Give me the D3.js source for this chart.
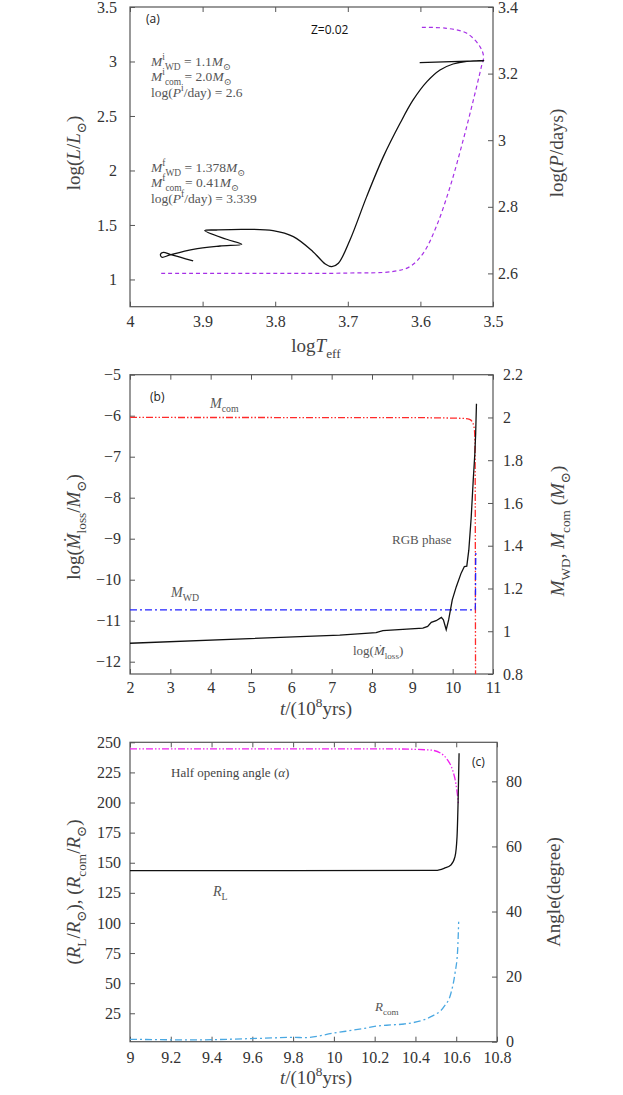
<!DOCTYPE html>
<html>
<head>
<meta charset="utf-8">
<script src="https://cdn.jsdelivr.net/npm/d3@7"></script>
<style>
    body { margin: 0; background: #fff; }
    svg { display: block; }
</style>
</head>
<body>
<script>
// ---- panel (a): HR track and orbital period ----
const hrTeff = [3.913, 3.931, 3.945, 3.954, 3.958, 3.956, 3.945, 3.913, 3.876, 3.846, 3.867, 3.897, 3.881,
    3.844, 3.803, 3.775, 3.748, 3.731, 3.722, 3.713, 3.697, 3.674, 3.651, 3.628, 3.610, 3.591, 3.573,
    3.555, 3.536, 3.513, 3.601];
const hrLogL = [1.170, 1.204, 1.231, 1.249, 1.231, 1.204, 1.225, 1.277, 1.307, 1.323, 1.369, 1.448, 1.454,
    1.460, 1.448, 1.393, 1.255, 1.142, 1.118, 1.149, 1.362, 1.760, 2.127, 2.433, 2.647, 2.815, 2.922,
    2.977, 3.002, 3.007, 2.989];
const perTeff = [3.957, 3.8, 3.7, 3.637, 3.614, 3.596, 3.578, 3.559, 3.541, 3.527, 3.516, 3.513, 3.518, 3.536, 3.564, 3.598];
const perLogP = [2.600, 2.600, 2.601, 2.606, 2.621, 2.661, 2.741, 2.861, 3.001, 3.121, 3.221, 3.251, 3.281, 3.321, 3.336, 3.339];
const aXTicks = [4, 3.9, 3.8, 3.7, 3.6, 3.5];
const aYTicks = [1, 1.5, 2, 2.5, 3, 3.5];
const aY2Ticks = [2.6, 2.8, 3, 3.2, 3.4];

// ---- panel (b): mass loss rate and masses ----
const tMloss = [2, 7.2, 8.1, 8.27, 9.26, 9.38, 9.47, 9.59, 9.72, 9.77, 9.84, 9.90, 9.99, 10.09, 10.21,
    10.29, 10.35, 10.40, 10.46, 10.51, 10.55, 10.57, 10.59];
const logMloss = [-11.55, -11.35, -11.29, -11.24, -11.18, -11.14, -11.04, -11.00, -10.92, -10.98, -11.22,
    -10.98, -10.49, -10.17, -9.84, -9.68, -9.67, -9.28, -8.47, -7.57, -6.92, -6.44, -5.71];
const tMcom = [2, 9, 10, 10.3, 10.42, 10.5, 10.54, 10.555, 10.56, 10.565, 10.575];
const mCom = [2.0, 1.999, 1.997, 1.995, 1.991, 1.975, 1.94, 1.85, 1.6, 1.0, 0.41];
const tMwd = [2, 10.56, 10.565, 10.57, 10.575];
const mWd = [1.1, 1.1, 1.15, 1.3, 1.378];
const bXTicks = [2, 3, 4, 5, 6, 7, 8, 9, 10, 11];
const bYTicks = [-12, -11, -10, -9, -8, -7, -6, -5];
const bY2Ticks = [0.8, 1, 1.2, 1.4, 1.6, 1.8, 2, 2.2];

// ---- panel (c): radii and opening angle ----
const tAlpha = [9, 10.3, 10.476, 10.525, 10.558, 10.582, 10.598, 10.607, 10.611];
const alphaDeg = [90, 89.95, 89.6, 88.6, 86.5, 83.5, 79.4, 75.3, 73];
const tRl = [9, 10.5, 10.541, 10.574, 10.594, 10.604, 10.609, 10.614];
const rL = [143.4, 143.6, 145.4, 148.1, 155, 171.6, 199.3, 240.9];
const tRcom = [9, 9.3, 9.64, 9.80, 9.86, 10.0, 10.15, 10.213, 10.279, 10.345, 10.476, 10.54, 10.574, 10.594, 10.607, 10.612];
const rCom = [3.4, 2.9, 4.2, 5.0, 4.8, 8.6, 12.5, 14.4, 15.3, 16.1, 22.2, 30.5, 41.6, 58.2, 77.5, 101];
const cXTicks = [9, 9.2, 9.4, 9.6, 9.8, 10, 10.2, 10.4, 10.6, 10.8];
const cYTicks = [25, 50, 75, 100, 125, 150, 175, 200, 225, 250];
const cY2Ticks = [0, 20, 40, 60, 80];

const W = 623, H = 1095;
const SERIF = '"Liberation Serif", "DejaVu Serif", serif';
const SANS = '"Open Sans", "DejaVu Sans", sans-serif';
const fmt = d3.format('~g');
const AX = 19; // axis title size

const svg = d3.select('body').append('svg')
    .attr('width', W)
    .attr('height', H);

// text with roman/italic pieces and sub/superscripts
// part: [text, flags]  flags: i = italic, b = subscript, p = superscript
function rich(sel, parts, size) {
    let shift = 0;
    parts.forEach(function (p) {
        const s = p[0], f = p[1] || '';
        const target = f.includes('b') ? 0.3 : (f.includes('p') ? -0.42 : 0);
        sel.append('tspan')
            .text(s)
            .attr('dy', ((target - shift) * size) + 'px')
            .style('font-size', (target ? size * 0.7 : size) + 'px')
            .style('font-style', f.includes('i') ? 'italic' : 'normal');
        shift = target;
    });
    return sel;
}

function label(x, y, parts, size, opts) {
    opts = opts || {};
    const t = svg.append('text')
        .attr('x', opts.rot ? 0 : x)
        .attr('y', opts.rot ? 0 : y)
        .attr('text-anchor', opts.anchor || 'start')
        .style('font-family', opts.font || SERIF)
        .style('font-size', size + 'px')
        .attr('fill', opts.color || '#444');
    if (opts.rot) t.attr('transform', 'translate(' + x + ',' + y + ') rotate(-90)');
    return rich(t, parts, size);
}

function styleAxis(g) {
    g.select('.domain').remove();
    g.selectAll('line').attr('stroke', '#555');
    g.selectAll('text')
        .style('font-family', SERIF)
        .style('font-size', '16px')
        .attr('fill', '#333');
}

function panel(cfg) {
    const x = d3.scaleLinear().domain(cfg.xd).range([cfg.x0, cfg.x1]);
    const yl = d3.scaleLinear().domain(cfg.yd).range([cfg.y1, cfg.y0]);
    const yr = d3.scaleLinear().domain(cfg.y2d).range([cfg.y1, cfg.y0]);

    const g = svg.append('g');
    g.append('g')
        .attr('transform', 'translate(0,' + cfg.y1 + ')')
        .call(d3.axisBottom(x).tickValues(cfg.xt).tickFormat(fmt).tickSize(-5).tickPadding(cfg.pb))
        .call(styleAxis);
    g.append('g')
        .attr('transform', 'translate(0,' + cfg.y0 + ')')
        .call(d3.axisTop(x).tickValues(cfg.xt).tickFormat('').tickSize(-5))
        .call(styleAxis);
    g.append('g')
        .attr('transform', 'translate(' + cfg.x0 + ',0)')
        .call(d3.axisLeft(yl).tickValues(cfg.yt).tickFormat(fmt).tickSize(-5).tickPadding(cfg.pl))
        .call(styleAxis);
    g.append('g')
        .attr('transform', 'translate(' + cfg.x1 + ',0)')
        .call(d3.axisRight(yr).tickValues(cfg.y2t).tickFormat(fmt).tickSize(-5).tickPadding(cfg.pr))
        .call(styleAxis);

    g.append('rect')
        .attr('x', cfg.x0).attr('y', cfg.y0)
        .attr('width', cfg.x1 - cfg.x0).attr('height', cfg.y1 - cfg.y0)
        .attr('fill', 'none')
        .attr('stroke', '#555')
        .attr('stroke-width', 1.2);

    const id = 'clip' + cfg.name;
    svg.append('clipPath').attr('id', id)
        .append('rect')
        .attr('x', cfg.x0).attr('y', cfg.y0)
        .attr('width', cfg.x1 - cfg.x0).attr('height', cfg.y1 - cfg.y0);
    const plot = svg.append('g').attr('clip-path', 'url(#' + id + ')');
    return {x: x, yl: yl, yr: yr, plot: plot};
}

function series(p, xs, ys, yScale, color, dash, width, curve) {
    const pts = xs.map((v, i) => [v, ys[i]]);
    p.plot.append('path')
        .datum(pts)
        .attr('d', d3.line()
            .x(d => p.x(d[0]))
            .y(d => yScale(d[1]))
            .curve(curve || d3.curveCatmullRom.alpha(0.5)))
        .attr('fill', 'none')
        .attr('stroke', color)
        .attr('stroke-width', width || 1.3)
        .attr('stroke-dasharray', dash || null);
}

// ---------- (a) ----------
const pa = panel({
    name: 'a', x0: 130, x1: 493, y0: 7, y1: 306.7,
    xd: [4, 3.5], yd: [0.75, 3.5], y2d: [2.5, 3.4],
    xt: aXTicks, yt: aYTicks, y2t: aY2Ticks, pb: 9, pl: 13, pr: 5
});
series(pa, perTeff, perLogP, pa.yr, '#a630e6', '4,3', 1.2);
series(pa, hrTeff, hrLogL, pa.yl, '#111', null, 1.3);

label(146, 23, [['(a)']], 12, {font: SANS, color: '#222'});
label(311, 34, [['Z=0.02']], 12, {font: SANS, color: '#111'});
const ann = 13.5, annC = '#555';
label(151, 66, [['M', 'i'], ['i', 'p'], ['WD', 'b'], [' = 1.1'], ['M', 'i'], ['⊙', 'b']], ann, {color: annC});
label(151, 81, [['M', 'i'], ['i', 'p'], ['com', 'b'], [' = 2.0'], ['M', 'i'], ['⊙', 'b']], ann, {color: annC});
label(151, 97, [['log('], ['P', 'i'], ['i', 'p'], ['/day) = 2.6']], ann, {color: annC});
label(151, 172, [['M', 'i'], ['f', 'p'], ['WD', 'b'], [' = 1.378'], ['M', 'i'], ['⊙', 'b']], ann, {color: annC});
label(151, 187, [['M', 'i'], ['f', 'p'], ['com', 'b'], [' = 0.41'], ['M', 'i'], ['⊙', 'b']], ann, {color: annC});
label(151, 203, [['log('], ['P', 'i'], ['f', 'p'], ['/day) = 3.339']], ann, {color: annC});

label(80, 153, [['log('], ['L', 'i'], ['/'], ['L', 'i'], ['⊙', 'b'], [')']], AX, {rot: true, anchor: 'middle'});
label(316, 352, [['log'], ['T', 'i'], ['eff', 'b']], AX, {anchor: 'middle'});
label(563, 153, [['log('], ['P', 'i'], ['/days)']], AX, {rot: true, anchor: 'middle'});

// ---------- (b) ----------
const pb = panel({
    name: 'b', x0: 130, x1: 493, y0: 374.7, y1: 674,
    xd: [2, 11], yd: [-12.3, -5], y2d: [0.8, 2.2],
    xt: bXTicks, yt: bYTicks, y2t: bY2Ticks, pb: 8, pl: 9, pr: 10
});
series(pb, tMcom, mCom, pb.yr, '#ff2a2a', '7,2,1.5,2,1.5,2', 1.3, d3.curveMonotoneX);
series(pb, tMwd, mWd, pb.yr, '#2222ff', '7,3,2,3', 1.3, d3.curveMonotoneX);
series(pb, tMloss, logMloss, pb.yl, '#111', null, 1.3, d3.curveLinear);

label(150, 401, [['(b)']], 12, {font: SANS, color: '#222'});
label(210, 408, [['M', 'i'], ['com', 'b']], 14, {color: annC});
label(171, 597, [['M', 'i'], ['WD', 'b']], 14, {color: annC});
label(392, 544, [['RGB phase']], 13, {color: annC});
label(353, 655, [['log('], ['Ṁ', 'i'], ['loss', 'b'], [')']], 13, {color: annC});

label(80, 527, [['log('], ['Ṁ', 'i'], ['loss', 'b'], ['/'], ['M', 'i'], ['⊙', 'b'], [')']], AX, {rot: true, anchor: 'middle'});
label(564, 531, [['M', 'i'], ['WD', 'b'], [', '], ['M', 'i'], ['com', 'b'], [' ('], ['M', 'i'], ['⊙', 'b'], [')']], AX, {rot: true, anchor: 'middle'});
label(316, 715, [['t', 'i'], ['/(10'], ['8', 'p'], ['yrs)']], AX, {anchor: 'middle'});

// ---------- (c) ----------
const pc = panel({
    name: 'c', x0: 130, x1: 497, y0: 742.3, y1: 1041.7,
    xd: [9, 10.8], yd: [1.4, 250], y2d: [0, 92],
    xt: cXTicks, yt: cYTicks, y2t: cY2Ticks, pb: 10, pl: 9, pr: 9
});
series(pc, tAlpha, alphaDeg, pc.yr, '#f020f0', '7,2,1.5,2,1.5,2', 1.3, d3.curveMonotoneX);
series(pc, tRcom, rCom, pc.yl, '#4aa8e2', '7,3,2,3', 1.3, d3.curveMonotoneX);
series(pc, tRl, rL, pc.yl, '#111', null, 1.3, d3.curveMonotoneX);

label(472, 766, [['(c)']], 12, {font: SANS, color: '#222'});
label(171, 777, [['Half opening angle ('], ['α', 'i'], [')']], 13, {color: '#444'});
label(213, 896, [['R', 'i'], ['L', 'b']], 14, {color: annC});
label(375, 1011, [['R', 'i'], ['com', 'b']], 13, {color: annC});

label(80, 892, [['('], ['R', 'i'], ['L', 'b'], ['/'], ['R', 'i'], ['⊙', 'b'], ['), ('], ['R', 'i'], ['com', 'b'], ['/'], ['R', 'i'], ['⊙', 'b'], [')']], AX, {rot: true, anchor: 'middle'});
label(560, 892, [['Angle(degree)']], AX, {rot: true, anchor: 'middle'});
label(316, 1084, [['t', 'i'], ['/(10'], ['8', 'p'], ['yrs)']], AX, {anchor: 'middle'});
</script>
</body>
</html>
